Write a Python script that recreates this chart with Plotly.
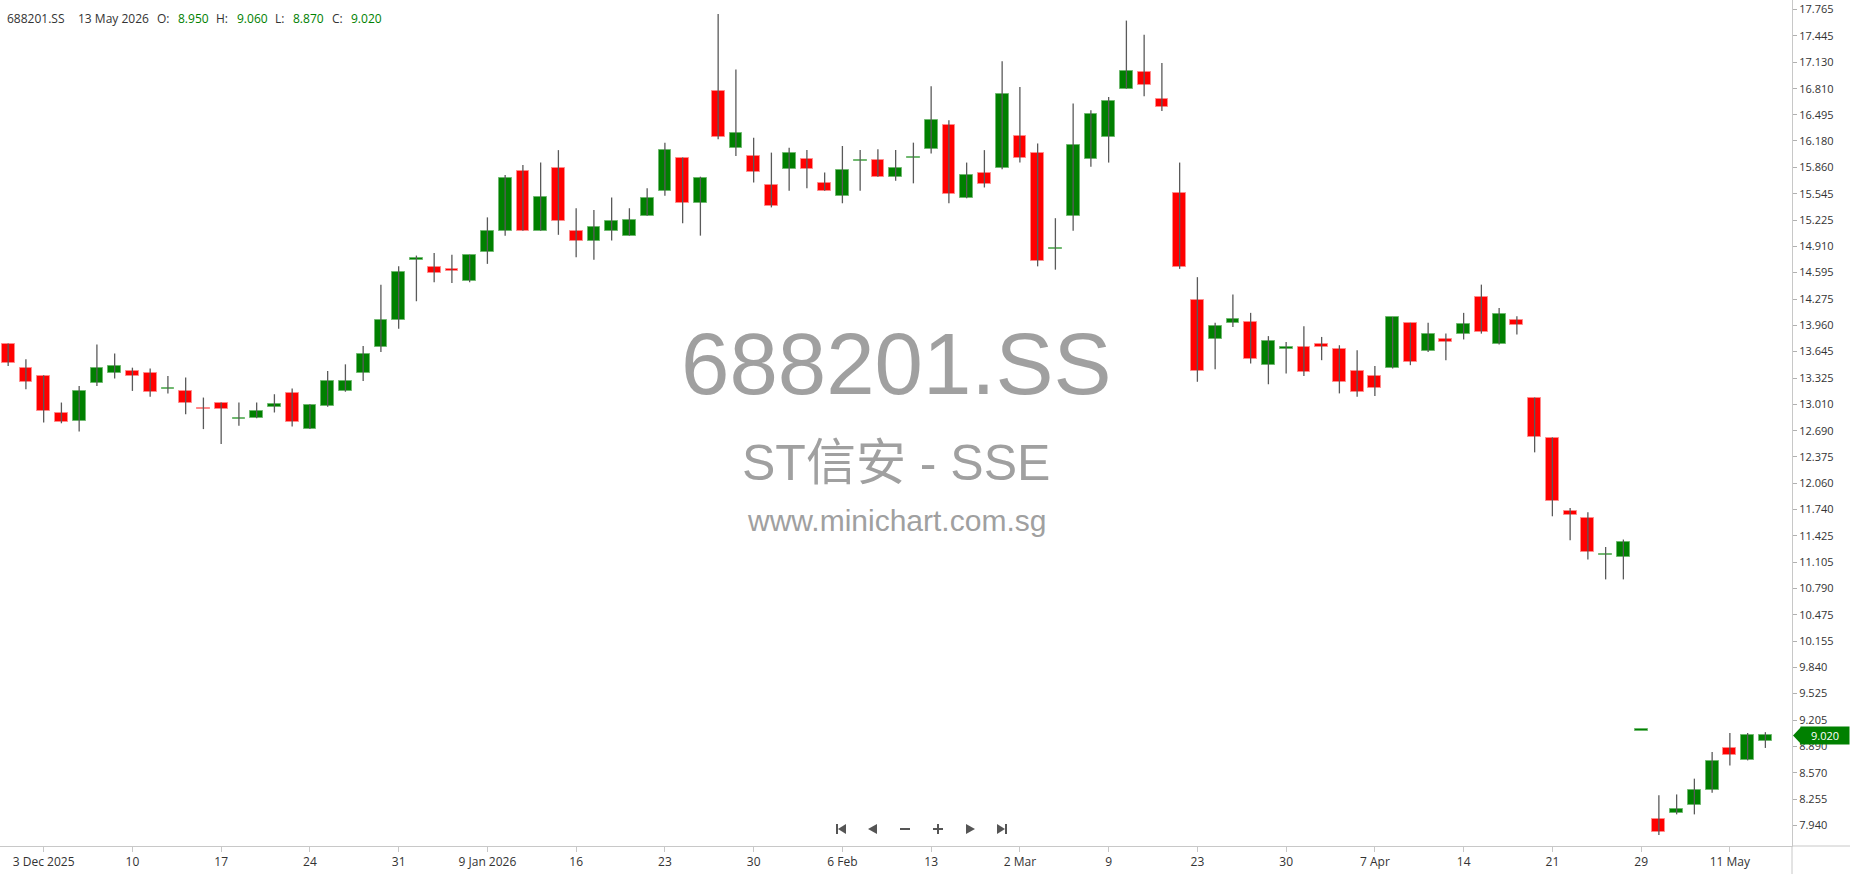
import plotly.graph_objects as go

# ---------------- data ----------------
DEC_2025 = [1, 2, 3, 4, 5, 8, 9, 10, 11, 12, 15, 16, 17, 18, 19, 22, 23, 24, 25, 26, 29, 30, 31]
JAN_2026 = [5, 6, 7, 8, 9, 12, 13, 14, 15, 16, 19, 20, 21, 22, 23, 26, 27, 28, 29, 30]
FEB_2026 = [2, 3, 4, 5, 6, 9, 10, 11, 12, 13, 24, 25, 26, 27]
MAR_2026 = [2, 3, 4, 5, 6, 9, 10, 11, 12, 13, 23, 24, 25, 26, 27, 30, 31]
APR_2026 = [1, 2, 3, 7, 8, 9, 10, 13, 14, 15, 16, 17, 20, 21, 22, 23, 24, 27, 29, 30]
MAY_2026 = [6, 7, 8, 11, 12, 13]

dates = ([f"2025-12-{d:02d}" for d in DEC_2025] + [f"2026-01-{d:02d}" for d in JAN_2026] +
         [f"2026-02-{d:02d}" for d in FEB_2026] + [f"2026-03-{d:02d}" for d in MAR_2026] +
         [f"2026-04-{d:02d}" for d in APR_2026] + [f"2026-05-{d:02d}" for d in MAY_2026])

opens = [13.73, 13.44, 13.35, 12.90, 12.81, 13.26, 13.38, 13.41, 13.39, 13.19,
         13.17, 12.97, 13.02, 12.83, 12.84, 12.98, 13.15, 12.71, 12.99, 13.17,
         13.38, 13.70, 14.03, 14.75, 14.66, 14.63, 14.49, 14.84, 15.10, 15.82,
         15.10, 15.86, 15.10, 14.98, 15.10, 15.04, 15.28, 15.58, 15.97, 15.43,
         16.78, 16.09, 16.00, 15.65, 15.84, 15.96, 15.67, 15.52, 15.94, 15.95,
         15.75, 15.97, 16.08, 16.37, 15.49, 15.80, 15.85, 16.24, 16.04, 14.88,
         15.28, 15.96, 16.23, 16.81, 17.01, 16.69, 15.55, 14.27, 13.80, 13.99,
         14.00, 13.48, 13.68, 13.70, 13.74, 13.68, 13.41, 13.35, 13.44, 13.99,
         13.65, 13.80, 13.85, 14.30, 13.73, 14.03, 13.08, 12.60, 11.72, 11.64,
         11.19, 11.17, 9.08, 8.02, 8.09, 8.18, 8.36, 8.87, 8.72, 8.95]
highs = [13.74, 13.55, 13.36, 13.03, 13.23, 13.73, 13.62, 13.45, 13.44, 13.35,
         13.33, 13.09, 13.03, 13.03, 13.03, 13.13, 13.20, 13.01, 13.41, 13.49,
         13.71, 14.45, 14.67, 14.80, 14.83, 14.81, 14.81, 15.26, 15.77, 15.89,
         15.92, 16.07, 15.37, 15.35, 15.50, 15.37, 15.61, 16.16, 15.98, 15.75,
         17.71, 17.04, 16.22, 16.04, 16.10, 16.07, 15.80, 16.12, 16.07, 16.08,
         16.07, 16.16, 16.84, 16.43, 15.92, 16.07, 17.14, 16.83, 16.15, 15.25,
         16.63, 16.55, 16.71, 17.63, 17.46, 17.12, 15.92, 14.54, 13.99, 14.33,
         14.11, 13.83, 13.76, 13.95, 13.82, 13.72, 13.66, 13.47, 14.06, 13.99,
         13.99, 13.86, 14.11, 14.45, 14.17, 14.07, 13.09, 12.61, 11.76, 11.71,
         11.29, 11.38, 9.08, 8.30, 8.31, 8.50, 8.82, 9.05, 9.05, 9.06]
lows = [13.47, 13.19, 12.79, 12.78, 12.68, 13.23, 13.32, 13.17, 13.10, 13.14,
        12.89, 12.71, 12.53, 12.75, 12.84, 12.91, 12.74, 12.71, 12.98, 13.16,
        13.29, 13.64, 13.92, 14.25, 14.48, 14.47, 14.48, 14.70, 15.04, 15.10,
        15.10, 15.05, 14.78, 14.75, 14.98, 15.04, 15.28, 15.52, 15.19, 15.04,
        16.20, 16.00, 15.68, 15.38, 15.58, 15.61, 15.58, 15.43, 15.58, 15.75,
        15.70, 15.67, 16.03, 15.43, 15.49, 15.62, 15.84, 15.92, 14.67, 14.63,
        15.10, 15.87, 15.92, 16.81, 16.72, 16.54, 14.64, 13.28, 13.43, 13.94,
        13.50, 13.25, 13.38, 13.35, 13.54, 13.14, 13.10, 13.11, 13.44, 13.48,
        13.64, 13.54, 13.79, 13.86, 13.73, 13.85, 12.43, 11.66, 11.37, 11.14,
        10.90, 10.90, 9.08, 7.82, 8.07, 8.07, 8.33, 8.66, 8.72, 8.87]
closes = [13.51, 13.28, 12.93, 12.80, 13.17, 13.44, 13.47, 13.35, 13.16, 13.20,
          13.03, 12.95, 12.95, 12.84, 12.93, 13.01, 12.80, 13.00, 13.29, 13.29,
          13.62, 14.03, 14.60, 14.77, 14.59, 14.62, 14.81, 15.10, 15.74, 15.10,
          15.50, 15.22, 14.98, 15.14, 15.22, 15.23, 15.49, 16.07, 15.43, 15.73,
          16.23, 16.28, 15.81, 15.40, 16.04, 15.84, 15.58, 15.83, 15.95, 15.75,
          15.86, 15.98, 16.43, 15.54, 15.77, 15.66, 16.75, 15.97, 14.74, 14.89,
          16.13, 16.51, 16.66, 17.02, 16.86, 16.59, 14.66, 13.41, 13.95, 14.04,
          13.56, 13.77, 13.69, 13.40, 13.70, 13.28, 13.16, 13.20, 14.06, 13.52,
          13.86, 13.76, 13.98, 13.88, 14.10, 13.96, 12.62, 11.85, 11.67, 11.23,
          11.20, 11.35, 9.08, 7.86, 8.13, 8.36, 8.71, 8.78, 9.02, 9.02]

x_tick_labels = ["3 Dec 2025", "10", "17", "24", "31", "9 Jan 2026", "16", "23", "30", "6 Feb",
                 "13", "2 Mar", "9", "23", "30", "7 Apr", "14", "21", "29", "11 May"]
x_tick_dates = ["2025-12-03", "2025-12-10", "2025-12-17", "2025-12-24", "2025-12-31",
                "2026-01-09", "2026-01-16", "2026-01-23", "2026-01-30", "2026-02-06",
                "2026-02-13", "2026-03-02", "2026-03-09", "2026-03-23", "2026-03-30",
                "2026-04-07", "2026-04-14", "2026-04-21", "2026-04-29", "2026-05-11"]
y_tick_labels = ["17.765", "17.445", "17.130", "16.810", "16.495", "16.180", "15.860", "15.545",
                 "15.225", "14.910", "14.595", "14.275", "13.960", "13.645", "13.325", "13.010",
                 "12.690", "12.375", "12.060", "11.740", "11.425", "11.105", "10.790", "10.475",
                 "10.155", "9.840", "9.525", "9.205", "8.890", "8.570", "8.255", "7.940"]

symbol = "688201.SS"
name_line = "ST信安 - SSE"
site = "www.minichart.com.sg"
last_date_label = "13 May 2026"

# ---------------- style ----------------
W, H = 1850, 874
ML, MR, MT, MB = 0, 58, 0, 28
PW, PH = W - ML - MR, H - MT - MB
GREEN, RED = "#008000", "#ff0000"
GREEN_EDGE, RED_EDGE = "#6fb86f", "#ff8a8a"
WICK = "#5a5a5a"
TXT = "#333333"
WM = "#a0a0a0"
FONT = "Open Sans"
Y_RANGE = [7.689, 17.878]


def px(xp):
    return (xp - ML) / PW


def py(yp):
    return 1 - (yp - MT) / PH


up = [c >= o for o, c in zip(opens, closes)]
MIN_BODY = 0.016
bases = [min(o, c) for o, c in zip(opens, closes)]
heights = [max(abs(c - o), MIN_BODY) for o, c in zip(opens, closes)]
fills = [GREEN if u else RED for u in up]
edges = [GREEN_EDGE if u else RED_EDGE for u in up]

wx, wy = [], []
for d, h, l in zip(dates, highs, lows):
    wx += [d, d, None]
    wy += [l, h, None]

fig = go.Figure()
fig.add_trace(go.Scatter(x=wx, y=wy, mode="lines", line=dict(color=WICK, width=1.3),
                         hoverinfo="skip", showlegend=False))
fig.add_trace(go.Bar(x=dates, y=heights, base=bases, width=0.72,
                     marker=dict(color=fills, line=dict(color=edges, width=1)),
                     showlegend=False, hoverinfo="skip"))

annotations = []
# watermark
annotations.append(dict(text=symbol, x=px(896), y=py(364), xref="paper", yref="paper",
                        showarrow=False, font=dict(family="Liberation Sans", size=87, color=WM)))
annotations.append(dict(text=name_line, x=px(896), y=py(463), xref="paper", yref="paper",
                        showarrow=False, font=dict(family="Liberation Sans, Noto Sans CJK SC", size=50, color=WM)))
annotations.append(dict(text=site, x=px(896), y=py(520), xref="paper", yref="paper",
                        showarrow=False, font=dict(family="Liberation Sans", size=30, color=WM)))

# header
o_, h_, l_, c_ = opens[-1], highs[-1], lows[-1], closes[-1]
header = [(symbol, 6, TXT), (last_date_label, 77, TXT), ("O:", 156, TXT), (f"{o_:.3f}", 177, GREEN),
          ("H:", 215, TXT), (f"{h_:.3f}", 236, GREEN), ("L:", 274, TXT), (f"{l_:.3f}", 292, GREEN),
          ("C:", 331, TXT), (f"{c_:.3f}", 350, GREEN)]
for t, xx, col in header:
    annotations.append(dict(text=t, x=px(xx), y=py(18), xref="paper", yref="paper", xanchor="left",
                            yanchor="middle", showarrow=False, borderpad=0,
                            font=dict(family=FONT, size=12, color=col)))

# last price label (box + text)
annotations.append(dict(text=f"{c_:.3f}", x=px(1800), y=c_, xref="paper", yref="y",
                        xanchor="left", yanchor="middle", showarrow=False,
                        bgcolor=GREEN, borderpad=1, width=46, height=15, align="center",
                        font=dict(family=FONT, size=11, color="white")))

shapes = []
half = 8.5 / (PH / (Y_RANGE[1] - Y_RANGE[0]))
shapes.append(dict(type="path", xref="paper", yref="y",
                   path=(f"M {px(1793)},{c_} L {px(1801)},{c_ + half} "
                         f"L {px(1801)},{c_ - half} Z"),
                   fillcolor=GREEN, line=dict(width=0), layer="above"))
# axis line extensions
shapes.append(dict(type="line", xref="paper", yref="paper", x0=1, x1=W / PW, y0=0, y1=0,
                   line=dict(color="#c8c8c8", width=1)))
shapes.append(dict(type="line", xref="paper", yref="paper", x0=1, x1=1, y0=0, y1=-MB / PH,
                   line=dict(color="#c8c8c8", width=1)))

# navigation icons
NAV = "#555555"
cy = 829
def tri(x_tip, x_base, col=NAV):
    return dict(type="path", xref="paper", yref="paper",
                path=f"M {px(x_tip)},{py(cy)} L {px(x_base)},{py(cy - 5)} L {px(x_base)},{py(cy + 5)} Z",
                fillcolor=col, line=dict(width=0))
def rect(x0, x1, y0, y1, col=NAV):
    return dict(type="rect", xref="paper", yref="paper", x0=px(x0), x1=px(x1), y0=py(y0), y1=py(y1),
                fillcolor=col, line=dict(width=0))
shapes += [rect(836, 838, cy - 5, cy + 5), tri(838, 846),
           tri(868, 877),
           rect(900, 910, cy - 1, cy + 1),
           rect(933, 943, cy - 1, cy + 1), rect(937, 939, cy - 5, cy + 5),
           tri(975, 966),
           tri(1005, 997), rect(1005, 1007, cy - 5, cy + 5)]

fig.update_layout(
    width=W, height=H, margin=dict(l=ML, r=MR, t=MT, b=MB, pad=0),
    paper_bgcolor="white", plot_bgcolor="white",
    font=dict(family=FONT, size=11, color=TXT),
    showlegend=False, hovermode=False, bargap=0,
    annotations=annotations, shapes=shapes,
    xaxis=dict(type="category", categoryorder="array", categoryarray=dates,
               range=[-0.46, 100.5], tickvals=x_tick_dates, ticktext=x_tick_labels,
               showgrid=False, zeroline=False, showline=True, linecolor="#c8c8c8", linewidth=1,
               ticks="outside", ticklen=5, tickcolor="#c8c8c8",
               tickfont=dict(family=FONT, size=12, color=TXT), fixedrange=True),
    yaxis=dict(side="right", range=Y_RANGE, tickvals=[float(v) for v in y_tick_labels],
               ticktext=y_tick_labels, showgrid=False, zeroline=False, showline=True,
               linecolor="#c8c8c8", linewidth=1, ticks="outside", ticklen=4, tickcolor="#b0b0b0",
               tickfont=dict(family=FONT, size=11, color=TXT), fixedrange=True),
)

fig.write_html("out.html", config={"displayModeBar": False},
               post_script="document.body.style.margin='0';document.body.style.overflow='hidden';")
